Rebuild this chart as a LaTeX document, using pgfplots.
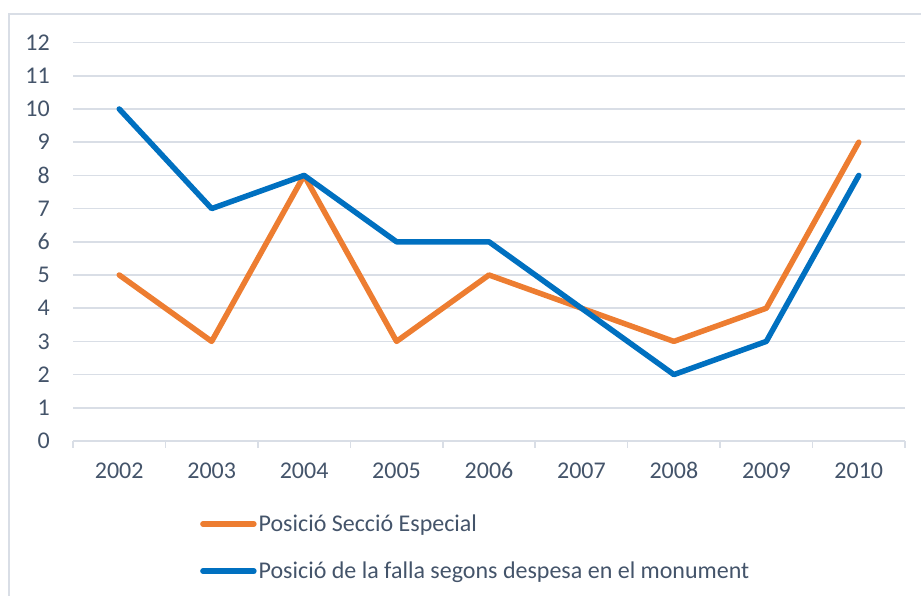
\documentclass[border=0pt]{standalone}
\usepackage{pgfplots}
\pgfplotsset{compat=1.18}
\usepackage{fontspec}
\setmainfont{Carlito}
\definecolor{txt}{RGB}{68,84,106}
\definecolor{gridc}{RGB}{217,222,230}
\definecolor{orng}{RGB}{237,125,49}
\definecolor{blu}{RGB}{0,112,192}
\begin{document}
\begin{tikzpicture}[x=1bp,y=1bp,font=\fontsize{24bp}{28bp}\selectfont]
\useasboundingbox (0,0) rectangle (921,596);
\draw[color=gridc, line width=1.5bp] (9,-5) -- (9,582) -- (930,582);
\begin{axis}[
  at={(73bp,155bp)}, anchor=south west,
  scale only axis, width=832bp, height=398.4bp,
  xmin=-0.5, xmax=8.5, ymin=0, ymax=12,
  axis lines*=left,
  x axis line style={gridc, line width=1.5bp},
  y axis line style={draw=none},
  xtick={0,...,8},
  xticklabels={2002,2003,2004,2005,2006,2007,2008,2009,2010},
  ytick={0,...,12},
  minor xtick={-0.5,0.5,...,8.5},
  major tick length=0pt,
  minor tick length=7bp,
  xtick align=outside,
  minor x tick style={gridc, line width=1.5bp},
  ymajorgrids,
  grid style={gridc, line width=1.5bp},
  tick label style={font=\fontsize{24bp}{28bp}\selectfont, text=txt},
  /pgf/number format/assume math mode=true,
  yticklabel style={anchor=base east, inner sep=0pt, xshift=-23bp, yshift=-7.8bp},
  xticklabel style={anchor=base, inner sep=0pt, yshift=-38bp},
  legend style={draw=none, fill=none, inner sep=0pt,
    at={(axis description cs:0.1526,-0.18)}, anchor=north west,
    font=\fontsize{24bp}{28bp}\selectfont, text=txt,
    row sep=25bp},
  legend cell align=left,
  legend image code/.code={\draw[#1, line width=5.5bp, line cap=round] (0bp,0bp) -- (51bp,0bp);},
]
\addplot[orng, line width=5.5bp, line cap=round, line join=round] coordinates {
 (0,5) (1,3) (2,8) (3,3) (4,5) (5,4) (6,3) (7,4) (8,9)};
\addlegendentry{Posició Secció Especial}
\addplot[blu, line width=5.5bp, line cap=round, line join=round] coordinates {
 (0,10) (1,7) (2,8) (3,6) (4,6) (5,4) (6,2) (7,3) (8,8)};
\addlegendentry{Posició de la falla segons despesa en el monument}
\end{axis}
\end{tikzpicture}
\end{document}
